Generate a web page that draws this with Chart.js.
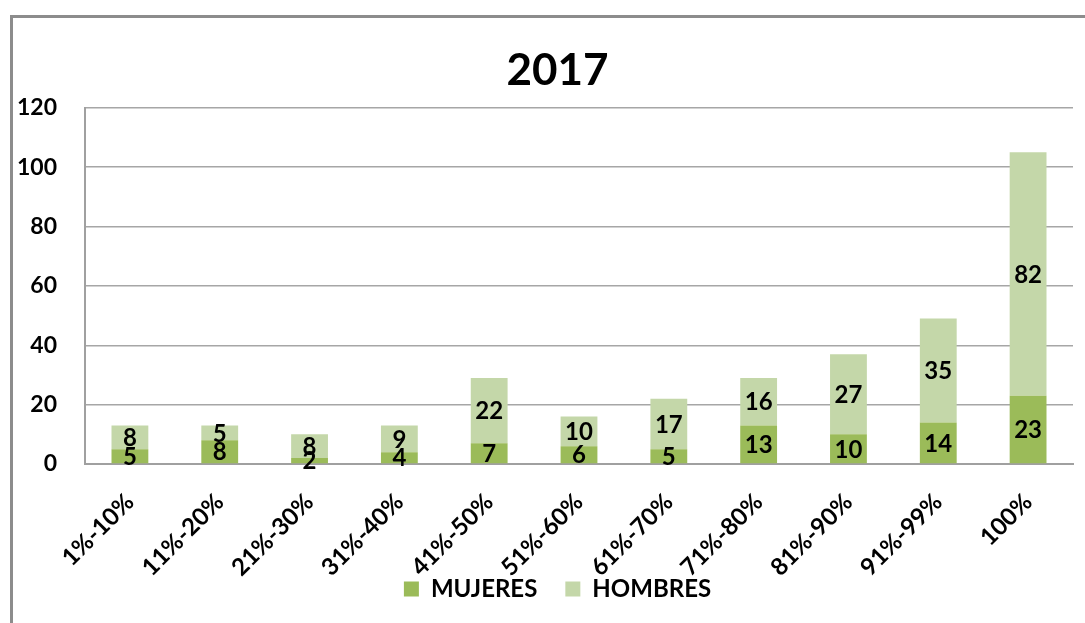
<!DOCTYPE html>
<html>
<head>
<meta charset="utf-8">
<script src="https://cdn.jsdelivr.net/npm/chart.js@4.4.1/dist/chart.umd.min.js"></script>
<style>
  html, body { margin:0; padding:0; background:#fff; }
  #wrap { position:absolute; left:0; top:0; width:1085px; height:623px; }
  #frame { position:absolute; left:10px; top:15px; width:1080px; height:620px;
           border-left:3px solid #8c8c8c; border-top:3px solid #8c8c8c; pointer-events:none; }
  canvas { position:absolute; left:0; top:0; }
</style>
</head>
<body>
<div id="wrap">
  <canvas id="c" width="1085" height="623"></canvas>
  <div id="frame"></div>
</div>
<script>
const categories = ['1%-10%','11%-20%','21%-30%','31%-40%','41%-50%','51%-60%','61%-70%','71%-80%','81%-90%','91%-99%','100%'];
const mujeres = [5, 8, 2, 4, 7, 6, 5, 13, 10, 14, 23];
const hombres = [8, 5, 8, 9, 22, 10, 17, 16, 27, 35, 82];
const yTicks = [0, 20, 40, 60, 80, 100, 120];

const FONT = 'Lato, "Open Sans", sans-serif';

const labelPlugin = {
  id: 'segLabels',
  afterDatasetsDraw(chart) {
    const ctx = chart.ctx;
    ctx.save();
    ctx.font = 'bold 24px ' + FONT;
    ctx.fillStyle = '#000';
    ctx.textAlign = 'center';
    ctx.textBaseline = 'middle';
    chart.data.datasets.forEach((ds, i) => {
      const meta = chart.getDatasetMeta(i);
      meta.data.forEach((bar, j) => {
        const v = ds.data[j];
        const y = (bar.y + bar.base) / 2;
        ctx.fillText(String(v), bar.x, y + 1);
      });
    });
    ctx.restore();
  }
};

new Chart(document.getElementById('c'), {
  type: 'bar',
  data: {
    labels: categories,
    datasets: [
      { label: 'MUJERES', data: mujeres, backgroundColor: '#9BBB59', borderWidth: 0 },
      { label: 'HOMBRES', data: hombres, backgroundColor: '#C4D7A9', borderWidth: 0 }
    ]
  },
  options: {
    responsive: false,
    animation: false,
    devicePixelRatio: 1,
    layout: { padding: { left: 42, right: 12, top: 0, bottom: 22 } },
    datasets: { bar: { categoryPercentage: 1.0, barPercentage: 0.41 } },
    plugins: {
      title: {
        display: true, text: '2017', color: '#000',
        font: { family: FONT, size: 44, weight: 'bold' },
        padding: { top: 44, bottom: 11 }
      },
      legend: {
        position: 'bottom',
        maxHeight: 52,
        labels: {
          color: '#000', boxWidth: 15, boxHeight: 15, padding: 28,
          font: { family: FONT, size: 24, weight: 'bold' }
        }
      },
      tooltip: { enabled: false }
    },
    scales: {
      x: {
        stacked: true,
        grid: { display: false },
        border: { display: true, color: '#a0a0a0', width: 2 },
        ticks: {
          color: '#000', minRotation: 45, maxRotation: 45, padding: 16,
          font: { family: FONT, size: 24, weight: 'bold' }
        },
        afterFit(s) { s.height = 85; s._computeLabelArea = () => undefined; }
      },
      y: {
        stacked: true,
        min: 0, max: 120,
        afterBuildTicks(s) { s.ticks = yTicks.map(v => ({ value: v })); },
        grid: { color: '#a6a6a6', lineWidth: 1.5, drawTicks: false },
        border: { display: true, color: '#a0a0a0', width: 2 },
        ticks: {
          color: '#000', padding: 28,
          font: { family: FONT, size: 23, weight: 'bold' }
        },
        afterFit(s) { s.width = 43; s._computeLabelArea = () => undefined; }
      }
    }
  },
  plugins: [labelPlugin]
});
</script>
</body>
</html>
